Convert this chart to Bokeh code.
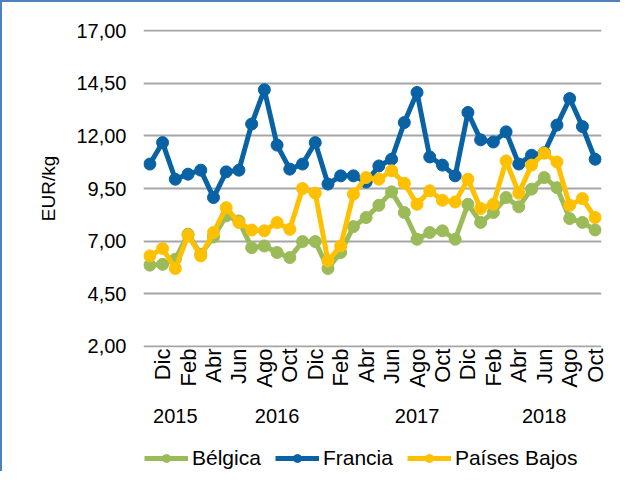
from bokeh.plotting import figure
from bokeh.layouts import column
from bokeh.models import (Range1d, FixedTicker, LinearAxis, Legend, LegendItem)
from bokeh.embed import file_html
from bokeh.resources import INLINE

# ---- data ----
months = ["Nov", "Dic"] + ["Ene", "Feb", "Mar", "Abr", "May", "Jun", "Jul", "Ago", "Sep", "Oct", "Nov", "Dic"] * 2 + \
         ["Ene", "Feb", "Mar", "Abr", "May", "Jun", "Jul", "Ago", "Sep", "Oct"]
years = ["2015", "2016", "2017", "2018"]
year_tick_pos = [2, 10, 21, 31]

belgica = [5.86, 5.90, 6.14, 7.33, 6.38, 7.20, 8.20, 7.96, 6.69, 6.77, 6.46, 6.22,
           6.98, 6.98, 5.70, 6.46, 7.69, 8.12, 8.70, 9.34, 8.36, 7.09, 7.41, 7.49,
           7.09, 8.75, 7.89, 8.36, 9.07, 8.63, 9.47, 10.02, 9.54, 8.07, 7.89, 7.53]
francia = [10.66, 11.68, 9.94, 10.18, 10.37, 9.07, 10.29, 10.37, 12.56, 14.19, 11.56, 10.42,
           10.66, 11.68, 9.71, 10.10, 10.10, 9.81, 10.57, 10.89, 12.63, 14.06, 11.00, 10.61,
           10.10, 13.11, 11.81, 11.71, 12.19, 10.66, 11.08, 11.20, 12.51, 13.77, 12.44, 10.89]
paises_bajos = [6.30, 6.65, 5.70, 7.28, 6.30, 7.41, 8.59, 7.88, 7.53, 7.49, 7.88, 7.56,
                9.50, 9.28, 6.06, 6.77, 9.23, 10.02, 9.94, 10.34, 9.75, 8.75, 9.39, 8.94,
                8.86, 9.94, 8.55, 8.75, 10.81, 9.28, 10.61, 11.18, 10.76, 8.70, 9.02, 8.12]

series_names = ["Bélgica", "Francia", "Países Bajos"]
series_colors = ["#9BBB59", "#0862A4", "#FFC000"]

y_ticks = [2.0, 4.5, 7.0, 9.5, 12.0, 14.5, 17.0]
y_tick_labels = ["2,00", "4,50", "7,00", "9,50", "12,00", "14,50", "17,00"]

x = list(range(len(months)))
series_values = [belgica, francia, paises_bajos]
FONT = "Liberation Sans"

# ---------------- main chart ----------------
p = figure(frame_width=458, frame_height=318,
           output_backend="svg", toolbar_location=None,
           x_range=Range1d(-0.5, len(months) - 0.5),
           y_range=Range1d(2 - 0.05, 17 + 0.05),
           min_border_left=141, min_border_right=19, min_border_top=27, min_border_bottom=0)
p.outline_line_color = None
p.background_fill_color = "white"
p.border_fill_color = "white"

# y axis
p.yaxis.ticker = FixedTicker(ticks=y_ticks)
p.yaxis.major_label_overrides = {t: l for t, l in zip(y_ticks, y_tick_labels)}
p.yaxis.axis_line_color = None
p.yaxis.major_tick_line_color = None
p.yaxis.major_tick_out = 0
p.yaxis.major_tick_in = 0
p.yaxis.minor_tick_line_color = None
p.yaxis.major_label_text_font = FONT
p.yaxis.major_label_text_font_size = "20px"
p.yaxis.major_label_text_color = "#000000"
p.yaxis.major_label_standoff = 17
p.yaxis.axis_label = "EUR/kg"
p.yaxis.axis_label_text_font = FONT
p.yaxis.axis_label_text_font_size = "19px"
p.yaxis.axis_label_text_font_style = "normal"
p.yaxis.axis_label_text_color = "#000000"
p.yaxis.axis_label_standoff = 14

p.ygrid.ticker = FixedTicker(ticks=y_ticks)
p.ygrid.grid_line_color = "#A6A6A6"
p.ygrid.grid_line_width = 2
p.xgrid.grid_line_color = None

# x axis: months
month_ticks = [i for i in x if i % 2 == 1]
p.xaxis.ticker = FixedTicker(ticks=month_ticks)
p.xaxis.major_label_overrides = {i: months[i] for i in month_ticks}
p.xaxis.major_label_orientation = 3.14159265 / 2
p.xaxis.axis_line_color = None
p.xaxis.major_tick_line_color = None
p.xaxis.major_tick_out = 0
p.xaxis.major_tick_in = 0
p.xaxis.minor_tick_line_color = None
p.xaxis.major_label_text_font = FONT
p.xaxis.major_label_text_font_size = "22px"
p.xaxis.major_label_text_color = "#000000"
p.xaxis.major_label_standoff = 1

# x axis: years
year_axis = LinearAxis(ticker=FixedTicker(ticks=year_tick_pos),
                       major_label_overrides={t: y for t, y in zip(year_tick_pos, years)})
year_axis.axis_line_color = None
year_axis.major_tick_line_color = None
year_axis.major_tick_out = 0
year_axis.major_tick_in = 0
year_axis.minor_tick_line_color = None
year_axis.major_label_text_font = FONT
year_axis.major_label_text_font_size = "20px"
year_axis.major_label_text_color = "#000000"
year_axis.major_label_standoff = 18
p.add_layout(year_axis, "below")

for vals, col in zip(series_values, series_colors):
    p.line(x, vals, line_color=col, line_width=5)
    p.scatter(x, vals, size=12, fill_color=col, line_color=col)

# ---------------- legend strip ----------------
pl = figure(width=618, height=46, output_backend="svg", toolbar_location=None,
            x_range=Range1d(-100, -99), y_range=Range1d(-100, -99),
            x_axis_location=None, y_axis_location=None,
            min_border=0, min_border_left=0, min_border_right=0,
            min_border_top=0, min_border_bottom=0)
pl.outline_line_color = None
pl.grid.visible = False
pl.background_fill_color = "white"
pl.border_fill_color = "white"

items = []
for name, vals, col in zip(series_names, series_values, series_colors):
    rl = pl.line(x, vals, line_color=col, line_width=5)
    rs = pl.scatter(x, vals, size=9, fill_color=col, line_color=col)
    items.append(LegendItem(label=name, renderers=[rl, rs]))

legend = Legend(items=items, orientation="horizontal", location=(1, 1),
                glyph_width=44, glyph_height=20, label_height=20, label_standoff=4, spacing=14,
                label_text_font=FONT, label_text_font_size="21px", label_text_color="#000000",
                border_line_color=None, background_fill_alpha=0, padding=2, margin=0)
pl.add_layout(legend)

layout = column(p, pl, spacing=0,
                styles={"border-left": "2px solid #4F81BD", "border-top": "2px solid #4F81BD"})

open("out.html", "w").write(file_html(layout, INLINE))
